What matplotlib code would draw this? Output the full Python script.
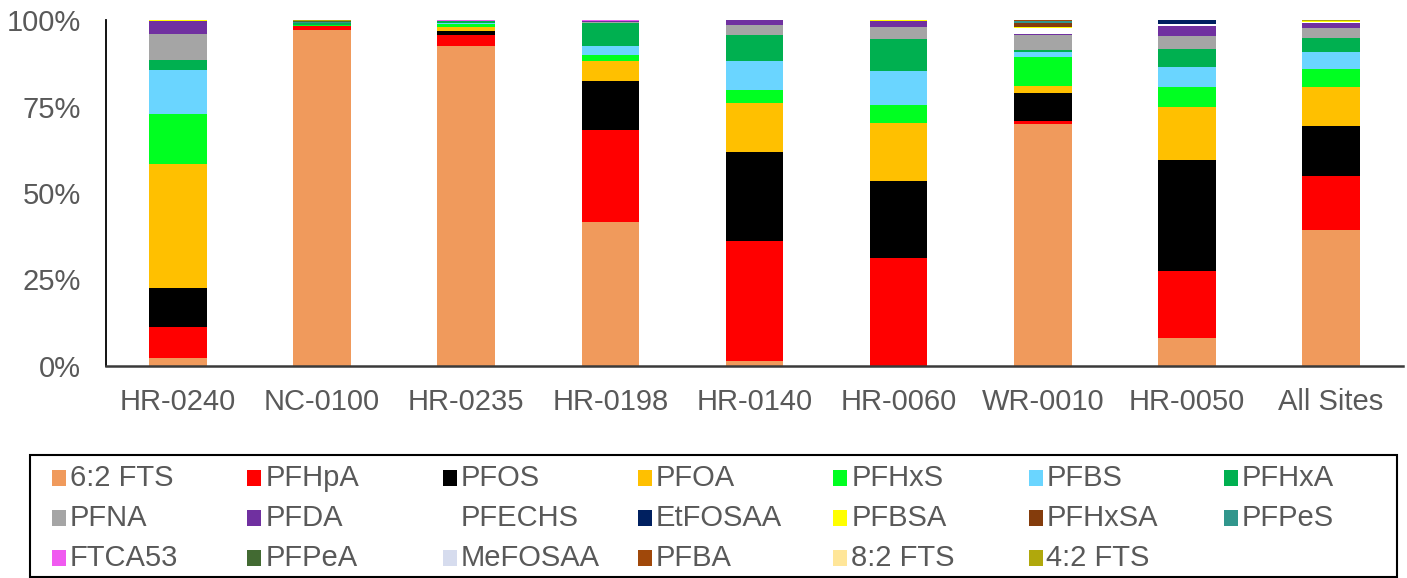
import matplotlib
matplotlib.use("Agg")
import matplotlib.pyplot as plt
from matplotlib.patches import Rectangle
from matplotlib.ticker import FuncFormatter

plt.rcParams['font.family'] = ['Liberation Sans', 'DejaVu Sans']

sites = ["HR-0240", "NC-0100", "HR-0235", "HR-0198", "HR-0140",
         "HR-0060", "WR-0010", "HR-0050", "All Sites"]

# percent of total PFAS per site, one list per compound
fts62 = [2.4, 97.0, 92.6, 41.7, 1.4, 0.0, 69.8, 8.2, 39.3]
pfhpa = [9.0, 1.4, 3.0, 26.5, 34.8, 31.2, 1.1, 19.3, 15.5]
pfos = [11.0, 0.0, 1.3, 14.3, 25.7, 22.4, 8.1, 32.1, 14.6]
pfoa = [36.0, 0.0, 1.2, 5.7, 14.0, 16.5, 1.9, 15.4, 11.1]
pfhxs = [14.5, 0.2, 0.7, 1.7, 4.0, 5.3, 8.5, 5.5, 5.3]
pfbs = [12.7, 0.0, 0.3, 2.7, 8.2, 9.8, 1.3, 5.9, 5.0]
pfhxa = [2.9, 0.4, 0.6, 6.5, 7.5, 9.2, 0.7, 5.3, 3.9]
pfna = [7.5, 0.0, 0.0, 0.2, 2.9, 3.6, 4.2, 3.8, 3.1]
pfda = [3.6, 0.0, 0.0, 0.3, 1.4, 1.6, 0.3, 2.7, 1.3]
pfechs = [0.0, 0.0, 0.0, 0.0, 0.0, 0.0, 1.9, 0.5, 0.3]
etfosaa = [0.0, 0.0, 0.0, 0.0, 0.0, 0.0, 0.0, 1.4, 0.1]
pfbsa = [0.5, 0.0, 0.0, 0.0, 0.0, 0.3, 0.3, 0.0, 0.2]
pfhxsa = [0.0, 0.0, 0.0, 0.0, 0.0, 0.0, 1.0, 0.0, 0.1]
pfpes = [0.0, 0.3, 0.0, 0.0, 0.0, 0.0, 0.6, 0.0, 0.0]
ftca53 = [0.0, 0.0, 0.3, 0.4, 0.0, 0.0, 0.0, 0.0, 0.0]
pfpea = [0.0, 0.4, 0.0, 0.0, 0.0, 0.0, 0.0, 0.0, 0.0]
mefosaa = [0.0, 0.0, 0.0, 0.0, 0.0, 0.0, 0.0, 0.0, 0.0]
pfba = [0.0, 0.0, 0.0, 0.0, 0.0, 0.0, 0.2, 0.0, 0.0]
fts82 = [0.0, 0.0, 0.0, 0.0, 0.0, 0.0, 0.3, 0.0, 0.0]
fts42 = [0.0, 0.3, 0.0, 0.0, 0.0, 0.0, 0.0, 0.0, 0.2]

compounds = ["6:2 FTS", "PFHpA", "PFOS", "PFOA", "PFHxS", "PFBS", "PFHxA",
             "PFNA", "PFDA", "PFECHS", "EtFOSAA", "PFBSA", "PFHxSA", "PFPeS",
             "FTCA53", "PFPeA", "MeFOSAA", "PFBA", "8:2 FTS", "4:2 FTS"]
series = [fts62, pfhpa, pfos, pfoa, pfhxs, pfbs, pfhxa, pfna, pfda, pfechs,
          etfosaa, pfbsa, pfhxsa, pfpes, ftca53, pfpea, mefosaa, pfba,
          fts82, fts42]
colors = ["#F09A5C", "#FF0000", "#000000", "#FFC000", "#00FF21", "#6AD5FF",
          "#00B050", "#A5A5A5", "#7030A0", "#FFFFFF", "#002060", "#FFFF00",
          "#843C0C", "#31968C", "#F05AF0", "#426A32", "#D6DCEE", "#A0480A",
          "#FFE699", "#B0A80C"]

W, H = 1407, 578
fig = plt.figure(figsize=(W / 100, H / 100), dpi=100)
ax = fig.add_axes([106 / W, 1 - 366 / H, 1297 / W, 346 / H])

x = list(range(len(sites)))
bottom = [0.0] * len(sites)
for vals, col in zip(series, colors):
    ax.bar(x, vals, width=0.4, bottom=bottom, color=col, linewidth=0)
    bottom = [b + v for b, v in zip(bottom, vals)]

ax.set_xlim(-0.5, len(sites) - 0.5)
ax.set_ylim(0, 100)
ax.set_yticks([0, 25, 50, 75, 100])
ax.yaxis.set_major_formatter(FuncFormatter(lambda v, p: f"{v:.0f}%"))
ax.set_xticks(x)
ax.set_xticklabels(sites)
ax.tick_params(length=0, labelsize=21, colors="#595959")
ax.tick_params(axis="y", pad=18)
ax.tick_params(axis="x", pad=16)
for s in ("top", "right"):
    ax.spines[s].set_visible(False)
ax.spines["left"].set_color("#000000")
ax.spines["left"].set_linewidth(1.3)
ax.spines["bottom"].set_color("#3a3a3a")
ax.spines["bottom"].set_linewidth(1.8)

# legend grid in a framed box below the plot
fig.add_artist(Rectangle((30 / W, 1 - 577 / H), 1367 / W, 122 / H,
                         transform=fig.transFigure, fill=False,
                         edgecolor="#000000", linewidth=1.5))
ncol = 7
for i, (name, col) in enumerate(zip(compounds, colors)):
    r, c = divmod(i, ncol)
    px = 52 + 195.3 * c
    py = 478 + 40 * r
    fig.add_artist(Rectangle((px / W, 1 - (py + 8) / H), 14 / W, 16 / H,
                             transform=fig.transFigure, facecolor=col,
                             linewidth=0))
    fig.text((px + 18) / W, 1 - py / H, name, fontsize=21, color="#595959",
             va="center", ha="left")

fig.savefig("out.png", dpi=100)
